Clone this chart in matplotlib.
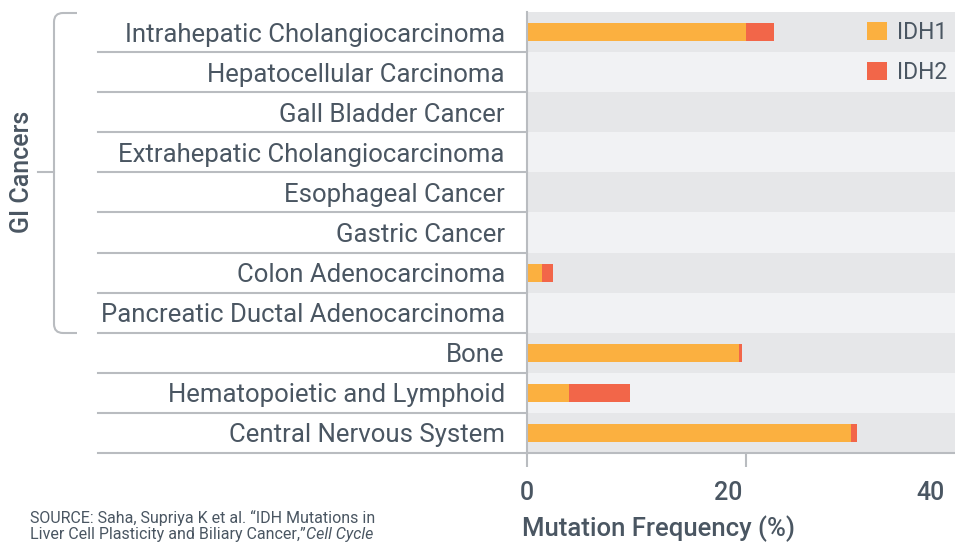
import numpy as np
import matplotlib
matplotlib.use("Agg")
from matplotlib import pyplot as plt
from matplotlib.path import Path
from matplotlib.patches import PathPatch
import matplotlib.transforms as mtransforms

cancers = ["Intrahepatic Cholangiocarcinoma", "Hepatocellular Carcinoma",
           "Gall Bladder Cancer", "Extrahepatic Cholangiocarcinoma",
           "Esophageal Cancer", "Gastric Cancer", "Colon Adenocarcinoma",
           "Pancreatic Ductal Adenocarcinoma", "Bone",
           "Hematopoietic and Lymphoid", "Central Nervous System"]
idh1 = [20.0, 0, 0, 0, 0, 0, 1.35, 0, 19.4, 3.85, 29.6]
idh2 = [2.55, 0, 0, 0, 0, 0, 1.0, 0, 0.2, 5.6, 0.55]
xticks = [0, 20, 40]

TEXT = "#4a5662"
GRID = "#b9bcc0"
C1 = "#fbb040"
C2 = "#f26649"
BG_DARK = "#e6e7e9"
BG_LIGHT = "#f1f2f4"

plt.rcParams['font.family'] = ['Roboto', 'DejaVu Sans']

W, H = 955, 542
fig = plt.figure(figsize=(W / 100, H / 100), dpi=100)
ax = fig.add_axes([527 / W, 1 - 453 / H, 1 - 527 / W, (453 - 12) / H])
ax.set_facecolor("none")

n = len(cancers)
y = np.arange(n)
for i in range(n):
    ax.axhspan(i - 0.5, i + 0.5, color=BG_DARK if i % 2 == 0 else BG_LIGHT,
               lw=0, zorder=0)
ax.barh(y, idh1, height=0.45, color=C1, label="IDH1", zorder=2)
ax.barh(y, idh2, left=idh1, height=0.45, color=C2, label="IDH2", zorder=2)

ax.set_ylim(n - 0.5, -0.5)
ax.set_xlim(0, (W - 527) / 10.95)

ax.set_yticks(y)
ax.set_yticklabels(cancers, fontsize=18.5, color=TEXT)
ax.tick_params(axis="y", length=0, pad=16)

ax.set_xticks([0, 20])
ax.set_xticklabels([])
ax.tick_params(axis="x", length=10, width=1.5, color=GRID)

for s in ["top", "right"]:
    ax.spines[s].set_visible(False)
ax.spines["left"].set_color(GRID)
ax.spines["left"].set_linewidth(1.5)
ax.spines["bottom"].set_color(GRID)
ax.spines["bottom"].set_linewidth(1.5)

# tick labels as printed (slightly offset from the tick marks in the original)
scale = 201.5 / 219.0
sec = ax.secondary_xaxis("bottom", functions=(lambda v: v / scale, lambda v: v * scale))
sec.set_xticks(xticks)
sec.set_xticklabels([str(t) for t in xticks], fontsize=18, color=TEXT, fontweight="medium")
sec.tick_params(length=0, pad=20)
sec.spines["bottom"].set_visible(False)

fig.text(522 / W, 1 - 529 / H, "Mutation Frequency (%)", fontsize=18.5, color=TEXT,
         fontweight="medium", ha="left", va="center")

# row separators on the label side
blend = mtransforms.blended_transform_factory(fig.transFigure, ax.transData)
for i in range(n):
    b = i + 0.5
    ax.plot([98 / W, 527 / W], [b, b], transform=blend, color=GRID, lw=1.5,
            clip_on=False, zorder=3)

# legend
ax.legend(loc="upper right", bbox_to_anchor=(1.012, 1.008), frameon=False,
          fontsize=16.5, labelcolor=TEXT, handlelength=0.85, handleheight=0.85,
          handletextpad=0.45, labelspacing=0.75, borderaxespad=0.15)

# GI Cancers bracket
px = mtransforms.IdentityTransform()
def fy(v):
    return H - v
r = 9
verts = [(77, fy(13)), (54 + r, fy(13)), (54, fy(13)), (54, fy(13 + r)),
         (54, fy(333 - r)), (54, fy(333)), (54 + r, fy(333)), (77, fy(333))]
codes = [Path.MOVETO, Path.LINETO, Path.CURVE3, Path.CURVE3,
         Path.LINETO, Path.CURVE3, Path.CURVE3, Path.LINETO]
fig.patches.append(PathPatch(Path(verts, codes), transform=px, fill=False,
                             edgecolor=GRID, lw=1.5))
fig.lines.append(plt.Line2D([38, 54], [fy(172), fy(172)], transform=px,
                            color=GRID, lw=1.5))
fig.text(22 / W, 1 - 172 / H, "GI Cancers", rotation=90, ha="center", va="center",
         fontsize=18, color=TEXT, fontweight="medium")

# source note
fs = 11.5
fig.text(30 / W, 1 - 518 / H, "SOURCE: Saha, Supriya K et al. \u201cIDH Mutations in",
         fontsize=fs, color=TEXT, va="center")
t2 = fig.text(30 / W, 1 - 535 / H, "Liver Cell Plasticity and Biliary Cancer,\u201d",
              fontsize=fs, color=TEXT, va="center")
fig.canvas.draw()
bb = t2.get_window_extent()
fig.text(bb.x1 / W, 1 - 535 / H, "Cell Cycle", fontsize=fs, color=TEXT,
         va="center", style="italic")

fig.savefig("out.png", dpi=100)
